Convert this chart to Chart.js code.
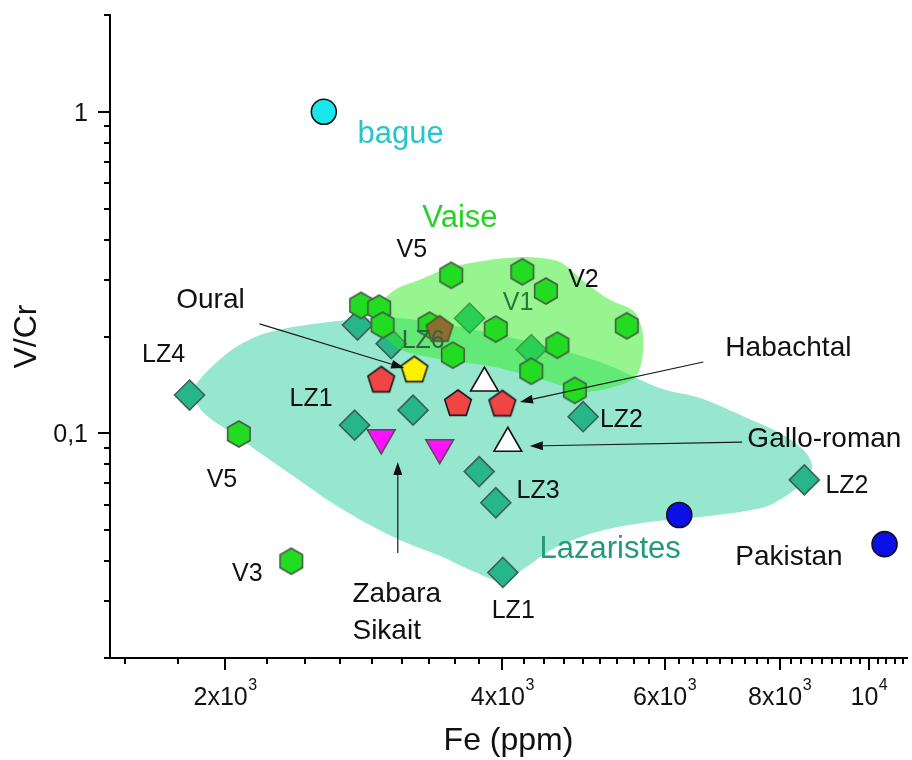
<!DOCTYPE html>
<html>
<head>
<meta charset="utf-8">
<script src="https://cdn.jsdelivr.net/npm/chart.js@4/dist/chart.umd.min.js"></script>
<style>
  html, body { margin: 0; padding: 0; background: #ffffff; }
  #wrap { width: 912px; height: 760px; }
</style>
</head>
<body>
<div id="wrap"><canvas id="chart" width="912" height="760"></canvas></div>
<script>
const FONT = '"Liberation Sans", Arial, Helvetica, sans-serif';

// ---- samples: Fe (ppm) and V/Cr ----
// Lazaristes (diamonds)
const lazaristesFe  = [1830, 2785, 3030, 3685, 4300, 4895, 3200, 2765, 3775, 3935, 4005, 8510];
const lazaristesVCr = [0.1315, 0.217, 0.19, 0.228, 0.182, 0.1126, 0.118, 0.106, 0.076, 0.0608, 0.0369, 0.0716];
// Vaise (hexagons)
const vaiseFe  = [2070, 2360, 2810, 2940, 2965, 3520, 4205, 4460, 3335, 3935, 3535, 4590, 4300, 5460, 4795];
const vaiseVCr = [0.0995, 0.040, 0.25, 0.245, 0.217, 0.31, 0.318, 0.277, 0.217, 0.211, 0.175, 0.188, 0.156, 0.216, 0.136];
// LZ6
const lz6Fe  = [3420];
const lz6VCr = [0.21];
// Habachtal
const habachtalFe  = [2955, 3580, 4000];
const habachtalVCr = [0.146, 0.1234, 0.123];
// Oural
const ouralFe  = [3210];
const ouralVCr = [0.157];
// Zabara / Sikait
const zabaraFe  = [2955, 3420];
const zabaraVCr = [0.0968, 0.0902];
// Gallo-roman
const galloFe  = [3825, 4055];
const galloVCr = [0.1433, 0.0931];
// Pakistan
const pakistanFe  = [6225, 10400];
const pakistanVCr = [0.0557, 0.0452];
// bague
const bagueFe  = [2560];
const bagueVCr = [1.0];

// ---- compositional fields (outlines) ----
const lazFieldFe  = [1830, 1900, 2035, 2215, 2530, 3095, 3975, 5105, 5935, 6560, 7250, 8015, 8530, 8680, 8425, 7815, 7250, 6560, 5785, 5105, 4560, 4230, 4005, 3735, 3420, 3095, 2845, 2615, 2405, 2215, 2035, 1900, 1830];
const lazFieldVCr = [0.1335, 0.153, 0.182, 0.205, 0.22, 0.228, 0.202, 0.1666, 0.138, 0.1287, 0.114, 0.1, 0.0875, 0.078, 0.069, 0.0598, 0.0569, 0.0549, 0.053, 0.0497, 0.044, 0.0381, 0.0345, 0.037, 0.0416, 0.0466, 0.0526, 0.0607, 0.0716, 0.0844, 0.1, 0.115, 0.1335];
const vaiseFieldFe  = [2885, 3055, 3250, 3505, 3875, 4285, 4620, 4915, 5235, 5570, 5685, 5670, 5570, 5235, 4855, 4620, 4285, 3875, 3595, 3250, 3080, 2940, 2885];
const vaiseFieldVCr = [0.238, 0.279, 0.2997, 0.327, 0.346, 0.353, 0.341, 0.295, 0.26, 0.238, 0.202, 0.169, 0.1486, 0.1383, 0.1344, 0.1413, 0.1508, 0.162, 0.1666, 0.175, 0.184, 0.2096, 0.238];

// ---- axes ----
const xRange = [1500, 11000];
const yRange = [0.02, 2];
const xMajorTicks = [2000, 4000, 6000, 8000, 10000];
const xTickMantissa = ['2x10', '4x10', '6x10', '8x10', '10'];
const xTickExponent = ['3', '3', '3', '3', '4'];
const yMajorTicks = [0.1, 1];
const yTickLabels = ['0,1', '1'];

// minor ticks: eight per major interval on x, 2..9 per decade on y
const xMinorTicks = [];
(function () {
  const step = (xMajorTicks[1] - xMajorTicks[0]) / 9;
  for (let k = -9; ; k++) {
    const v = xMajorTicks[0] + k * step;
    if (v > xRange[1]) break;
    if (v < xRange[0] || k % 9 === 0) continue;
    xMinorTicks.push(v);
  }
})();
const yMinorTicks = [];
[0.01, 0.1, 1].forEach(d => {
  for (let m = 2; m <= 9; m++) {
    const v = +(m * d).toFixed(4);
    if (v >= yRange[0] && v <= yRange[1]) yMinorTicks.push(v);
  }
});

// ---- text annotations (anchored at left / baseline, in data units) ----
const notes = [
  { t: 'bague', fe: 2785, v: 0.80, k: 'bague' },
  { t: 'Vaise', fe: 3275, v: 0.438, k: 'vaise' },
  { t: 'Lazaristes', fe: 4390, v: 0.041, k: 'laz' },
  { t: 'V5', fe: 3070, v: 0.353, k: 'code' },
  { t: 'Oural', fe: 1770, v: 0.245, k: 'name' },
  { t: 'LZ4', fe: 1625, v: 0.1666, k: 'code' },
  { t: 'LZ6', fe: 3110, v: 0.184, k: 'lz6' },
  { t: 'V1', fe: 4005, v: 0.2417, k: 'v1' },
  { t: 'V2', fe: 4715, v: 0.285, k: 'code' },
  { t: 'Habachtal', fe: 6985, v: 0.174, k: 'name' },
  { t: 'LZ1', fe: 2350, v: 0.1216, k: 'code' },
  { t: 'LZ2', fe: 5105, v: 0.1046, k: 'code' },
  { t: 'Gallo-roman', fe: 7380, v: 0.0907, k: 'name' },
  { t: 'V5', fe: 1910, v: 0.0681, k: 'code' },
  { t: 'LZ3', fe: 4145, v: 0.0629, k: 'code' },
  { t: 'LZ2', fe: 8970, v: 0.0652, k: 'code' },
  { t: 'Pakistan', fe: 7160, v: 0.039, k: 'name' },
  { t: 'V3', fe: 2035, v: 0.0347, k: 'code' },
  { t: 'Zabara', fe: 2750, v: 0.0299, k: 'name' },
  { t: 'Sikait', fe: 2750, v: 0.0229, k: 'name' },
  { t: 'LZ1', fe: 3895, v: 0.0266, k: 'code' }
];
const noteStyle = {
  bague: { size: 31, color: '#26c4cc' },
  vaise: { size: 31, color: '#27d127' },
  laz:   { size: 31, color: '#1f9c76' },
  name:  { size: 28, color: '#111111' },
  code:  { size: 25, color: '#111111' },
  lz6:   { size: 25, color: '#2f6246' },
  v1:    { size: 25, color: '#267a35' }
};
// arrows from a label to its sample
const arrows = [
  { from: [2180, 0.219], to: [3130, 0.1596] },
  { from: [6610, 0.1666], to: [4180, 0.1252] },
  { from: [7285, 0.0939], to: [4285, 0.0913] },
  { from: [3080, 0.0424], to: [3080, 0.0814] }
];

// ---- marker shapes ----
function polygonMarker(sides, r, fill, stroke, lw) {
  const size = Math.ceil(2 * r + lw + 4);
  const c = document.createElement('canvas');
  c.width = size; c.height = size;
  const g = c.getContext('2d');
  const cx = size / 2, cy = size / 2;
  g.beginPath();
  for (let i = 0; i < sides; i++) {
    const a = -Math.PI / 2 + i * 2 * Math.PI / sides;
    const px = cx + r * Math.cos(a), py = cy + r * Math.sin(a);
    if (i === 0) g.moveTo(px, py); else g.lineTo(px, py);
  }
  g.closePath();
  g.fillStyle = fill; g.fill();
  g.lineWidth = lw; g.strokeStyle = stroke; g.lineJoin = 'miter'; g.stroke();
  return c;
}
const hexMarker = polygonMarker(6, 13, '#22dc22', '#485c48', 1.6);
const redPentagon = polygonMarker(5, 14, '#f04545', '#1a1a1a', 1.6);
const yellowPentagon = polygonMarker(5, 14, '#fff000', '#1a1a1a', 1.6);
const brownPentagon = polygonMarker(5, 14, '#8e6e2c', '#4b5a30', 1.6);

const pts = (xs, ys) => xs.map((x, i) => ({ x: x, y: ys[i] }));

// ---- axis ticks and all annotation text ----
const decor = {
  id: 'decor',
  afterDatasetsDraw(chart) {
    const { ctx, scales: { x, y } } = chart;
    ctx.save();
    // arrows
    ctx.strokeStyle = '#1a1a1a';
    ctx.fillStyle = '#111111';
    ctx.lineWidth = 1.2;
    arrows.forEach(a => {
      const x0 = x.getPixelForValue(a.from[0]), y0 = y.getPixelForValue(a.from[1]);
      const x1 = x.getPixelForValue(a.to[0]), y1 = y.getPixelForValue(a.to[1]);
      const ang = Math.atan2(y1 - y0, x1 - x0);
      const L = 13, W = 4.5;
      const bx = x1 - L * Math.cos(ang), by = y1 - L * Math.sin(ang);
      ctx.beginPath(); ctx.moveTo(x0, y0); ctx.lineTo(bx, by); ctx.stroke();
      ctx.beginPath();
      ctx.moveTo(x1, y1);
      ctx.lineTo(bx + W * Math.sin(ang), by - W * Math.cos(ang));
      ctx.lineTo(bx - W * Math.sin(ang), by + W * Math.cos(ang));
      ctx.closePath(); ctx.fill();
    });
    // labels
    ctx.textAlign = 'left';
    ctx.textBaseline = 'alphabetic';
    notes.forEach(n => {
      const s = noteStyle[n.k];
      ctx.font = s.size + 'px ' + FONT;
      ctx.fillStyle = s.color;
      ctx.fillText(n.t, x.getPixelForValue(n.fe), y.getPixelForValue(n.v));
    });
    ctx.restore();
  },
  afterDraw(chart) {
    const { ctx, chartArea: a, scales: { x, y } } = chart;
    ctx.save();
    ctx.strokeStyle = '#000000';
    ctx.lineWidth = 2;
    const tick = (x0, y0, x1, y1) => { ctx.beginPath(); ctx.moveTo(x0, y0); ctx.lineTo(x1, y1); ctx.stroke(); };
    xMajorTicks.forEach(v => { const p = Math.round(x.getPixelForValue(v)); tick(p, a.bottom, p, a.bottom + 12); });
    xMinorTicks.forEach(v => { const p = Math.round(x.getPixelForValue(v)); tick(p, a.bottom, p, a.bottom + 6); });
    yMajorTicks.forEach(v => { const p = Math.round(y.getPixelForValue(v)); tick(a.left, p, a.left - 12, p); });
    yMinorTicks.forEach(v => { const p = Math.round(y.getPixelForValue(v)); tick(a.left, p, a.left - 6, p); });

    ctx.fillStyle = '#111111';
    ctx.textBaseline = 'alphabetic';
    // x tick labels with superscript exponent
    xMajorTicks.forEach((v, i) => {
      const p = x.getPixelForValue(v);
      ctx.font = '25px ' + FONT;
      const wm = ctx.measureText(xTickMantissa[i]).width;
      ctx.font = '16px ' + FONT;
      const we = ctx.measureText(xTickExponent[i]).width;
      const start = p - (wm + we) / 2;
      ctx.textAlign = 'left';
      ctx.font = '25px ' + FONT;
      ctx.fillText(xTickMantissa[i], start, a.bottom + 47);
      ctx.font = '16px ' + FONT;
      ctx.fillText(xTickExponent[i], start + wm + 0.5, a.bottom + 32);
    });
    // y tick labels
    ctx.textAlign = 'right';
    ctx.font = '25px ' + FONT;
    yMajorTicks.forEach((v, i) => {
      const p = y.getPixelForValue(v);
      ctx.fillText(yTickLabels[i], a.left - 22, p + 9);
    });
    ctx.restore();
  }
};

const pointSet = (label, xs, ys, style, extra) => Object.assign({
  label: label,
  data: pts(xs, ys),
  pointStyle: style,
  showLine: false
}, extra);

new Chart(document.getElementById('chart'), {
  type: 'scatter',
  data: {
    datasets: [
      {
        type: 'line', label: 'Lazaristes field', order: 20,
        data: pts(lazFieldFe, lazFieldVCr),
        fill: 'shape', backgroundColor: 'rgba(48, 208, 160, 0.5)',
        borderWidth: 0, borderColor: 'rgba(0,0,0,0)', pointRadius: 0, tension: 0.3
      },
      pointSet('Lazaristes', lazaristesFe, lazaristesVCr, 'rectRot', {
        order: 19, pointRadius: 15, backgroundColor: '#27b58a', borderColor: '#3e5e55', borderWidth: 1.6
      }),
      {
        type: 'line', label: 'Vaise field', order: 18,
        data: pts(vaiseFieldFe, vaiseFieldVCr),
        fill: 'shape', backgroundColor: 'rgba(46, 236, 30, 0.5)',
        borderWidth: 0, borderColor: 'rgba(0,0,0,0)', pointRadius: 0, tension: 0.3
      },
      pointSet('Vaise', vaiseFe, vaiseVCr, hexMarker, { order: 17 }),
      pointSet('LZ6', lz6Fe, lz6VCr, brownPentagon, { order: 16 }),
      pointSet('Habachtal', habachtalFe, habachtalVCr, redPentagon, { order: 15 }),
      pointSet('Oural', ouralFe, ouralVCr, yellowPentagon, { order: 14 }),
      pointSet('Zabara Sikait', zabaraFe, zabaraVCr, 'triangle', {
        order: 13, pointRadius: 16, rotation: 180, backgroundColor: '#ff10ff', borderColor: '#5a4a5a', borderWidth: 1.6
      }),
      pointSet('Gallo-roman', galloFe, galloVCr, 'triangle', {
        order: 12, pointRadius: 16, backgroundColor: '#ffffff', borderColor: '#111111', borderWidth: 1.6
      }),
      pointSet('Pakistan', pakistanFe, pakistanVCr, 'circle', {
        order: 11, pointRadius: 12.5, backgroundColor: '#0a10e6', borderColor: '#111111', borderWidth: 1.6
      }),
      pointSet('bague', bagueFe, bagueVCr, 'circle', {
        order: 10, pointRadius: 12.5, backgroundColor: '#18e8ee', borderColor: '#111111', borderWidth: 1.6
      })
    ]
  },
  options: {
    responsive: false,
    animation: false,
    events: [],
    layout: { autoPadding: false, padding: { left: 0, right: 5, top: 15, bottom: 0 } },
    plugins: { legend: { display: false }, tooltip: { enabled: false } },
    scales: {
      x: {
        type: 'logarithmic', position: 'bottom',
        min: xRange[0], max: xRange[1],
        grid: { display: false, drawTicks: false },
        border: { display: true, color: '#000000', width: 2 },
        ticks: { display: false },
        title: {
          display: true, text: 'Fe (ppm)', color: '#111111',
          font: { family: FONT, size: 32, lineHeight: 1 },
          padding: { top: 0, bottom: 3 }
        },
        afterFit(scale) { scale.height = 102; }
      },
      y: {
        type: 'logarithmic', position: 'left',
        min: yRange[0], max: yRange[1],
        grid: { display: false, drawTicks: false },
        border: { display: true, color: '#000000', width: 2 },
        ticks: { display: false },
        title: {
          display: true, text: 'V/Cr', color: '#111111',
          font: { family: FONT, size: 32, lineHeight: 1 },
          padding: { top: 11, bottom: 0 }
        },
        afterFit(scale) { scale.width = 110; }
      }
    }
  },
  plugins: [decor]
});
</script>
</body>
</html>
